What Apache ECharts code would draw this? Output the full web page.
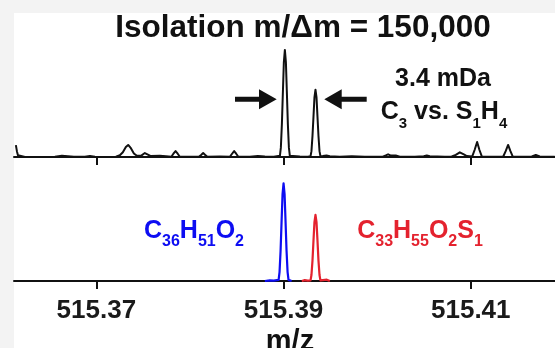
<!DOCTYPE html>
<html><head><meta charset="utf-8">
<script src="https://cdn.jsdelivr.net/npm/echarts@6/dist/echarts.min.js"></script>
<style>html,body{margin:0;padding:0;background:#fff}#c{width:555px;height:348px}</style>
</head><body><div id="c"></div>
<script>
// tick labels (m/z)
const tickValues = [515.37, 515.39, 515.41];
const axisMin = 515.3612, axisMax = 515.4190;

// top panel: isolated window spectrum [m/z, relative intensity]
const isolationTrace = [
[515.36140,10.2],[515.36151,5],[515.36162,1.5],[515.36183,0.5],[515.36237,0.1],[515.36397,0.1],[515.36557,0.3],[515.36632,1],[515.36696,0.6],[515.36760,0.2],[515.36877,0.3],[515.36931,0.9],[515.36984,0.2],[515.37144,0.1],
[515.37209,0.3],[515.37251,1.5],[515.37283,4],[515.37315,8.5],[515.37340,10.3],[515.37369,7.5],[515.37401,3],[515.37433,1],[515.37454,0.8],
[515.37476,1],[515.37497,2.5],[515.37518,3.4],[515.37540,2.5],[515.37561,1],[515.37582,0.8],[515.37678,1],[515.37743,0.6],
[515.37801,0.2],[515.37823,2.8],[515.37846,5.1],[515.37869,2.8],[515.37892,0.2],[515.37999,0.3],
[515.38095,0.2],[515.38119,1.8],[515.38141,3.4],[515.38163,1.8],[515.38186,0.2],[515.38319,0.4],
[515.38426,0.2],[515.38450,2.8],[515.38472,5.1],[515.38494,2.8],[515.38517,0.2],[515.38640,0.3],[515.38725,0.8],[515.38800,0.4],[515.38896,0.2],
[515.38961,1],[515.38971,8],[515.38982,28],[515.38993,56],[515.39003,81],[515.39014,91.5],[515.39025,81],[515.39035,56],[515.39046,28],[515.39057,8],[515.39067,1],
[515.39099,0.8],[515.39174,0.4],[515.39259,0.3],
[515.39288,0.6],[515.39298,5],[515.39309,18],[515.39320,35],[515.39330,51],[515.39341,57.5],[515.39352,51],[515.39362,35],[515.39373,18],[515.39384,5],[515.39394,0.6],
[515.39419,0.8],[515.39459,1.3],[515.39494,0.6],[515.39601,0.3],[515.39729,0.6],[515.39868,0.3],
[515.40060,0.3],[515.40092,1.3],[515.40117,2.3],[515.40146,1.2],[515.40199,1.3],[515.40242,0.3],[515.40402,0.3],[515.40498,0.6],[515.40530,1.3],[515.40562,0.6],[515.40723,0.3],
[515.40797,0.4],[515.40840,1.8],[515.40883,4],[515.40926,2.2],[515.40958,0.8],
[515.41016,0.5],[515.41041,6],[515.41068,12.8],[515.41093,6],[515.41118,0.5],[515.41203,0.3],
[515.41347,0.4],[515.41373,5],[515.41399,10.3],[515.41424,5],[515.41449,0.4],[515.41577,0.3],
[515.41652,0.4],[515.41695,1.7],[515.41737,0.4],[515.41897,0.3]
];

// bottom panel: theoretical profiles
const c36Trace = [
[515.38800,0],[515.38853,0.6],[515.38896,0.3],[515.38917,0.8],[515.38947,1],[515.38957,8],[515.38968,27],[515.38979,54],[515.38989,78],[515.39000,88],[515.39011,78],[515.39021,54],[515.39032,27],[515.39043,8],[515.39053,1],[515.39065,0.6],[515.39086,0]
];
const c33Trace = [
[515.39195,0],[515.39227,0.8],[515.39259,0.4],[515.39288,0.6],[515.39298,5.4],[515.39309,18.4],[515.39320,37],[515.39330,53],[515.39341,59.5],[515.39352,53],[515.39362,37],[515.39373,18.4],[515.39384,5.4],[515.39394,0.6],[515.39419,0.8],[515.39462,1.2],[515.39494,0]
];

// formula labels as [text, isSubscript]
const blueFormula = [['C',0],['36',1],['H',0],['51',1],['O',0],['2',1]];
const redFormula = [['C',0],['33',1],['H',0],['55',1],['O',0],['2',1],['S',0],['1',1]];
const diffFormula = [['C',0],['3',1],[' vs. S',0],['1',1],['H',0],['4',1]];

const FONT = '"Liberation Sans", Arial, Helvetica, sans-serif';
const INK = '#111111';
const BLUE = '#0d0df2';
const RED = '#e4222e';

const measureCtx = document.createElement('canvas').getContext('2d');
function textWidth(t, font) { measureCtx.font = font; return measureCtx.measureText(t).width; }

function formulaTexts(parts, cx, cy, color, mainSize, subSize, drop) {
  const mainFont = 'bold ' + mainSize + 'px ' + FONT;
  const subFont = 'bold ' + subSize + 'px ' + FONT;
  const widths = parts.map(p => textWidth(p[0], p[1] ? subFont : mainFont));
  const total = widths.reduce((a, b) => a + b, 0);
  let x = cx - total / 2;
  return parts.map((p, i) => {
    const el = {type: 'text', silent: true, style: {text: p[0], x: x, y: p[1] ? cy + drop : cy,
      textAlign: 'left', textVerticalAlign: 'middle', font: p[1] ? subFont : mainFont, fill: color}};
    x += widths[i];
    return el;
  });
}

const chart = echarts.init(document.getElementById('c'), null, {renderer: 'canvas'});

const xAxisBase = {
  type: 'value', min: axisMin, max: axisMax,
  axisLine: {show: true, lineStyle: {color: INK, width: 2}},
  axisTick: {show: true, customValues: tickValues, length: 8, lineStyle: {color: INK, width: 2}},
  splitLine: {show: false}
};

chart.setOption({
  animation: false,
  backgroundColor: '#ffffff',
  grid: [
    {left: 14, right: 0, top: 40, height: 117},
    {left: 14, right: 0, top: 170, height: 111}
  ],
  xAxis: [
    Object.assign({}, xAxisBase, {gridIndex: 0, axisLabel: {show: false}}),
    Object.assign({}, xAxisBase, {gridIndex: 1,
      axisLabel: {show: true, customValues: tickValues, margin: 17, color: '#1a1a1a', fontSize: 26, fontWeight: 'bold', fontFamily: FONT,
        formatter: v => v.toFixed(2)}})
  ],
  yAxis: [
    {type: 'value', gridIndex: 0, min: 0, max: 100, show: false},
    {type: 'value', gridIndex: 1, min: 0, max: 100, show: false}
  ],
  series: [
    {type: 'line', xAxisIndex: 0, yAxisIndex: 0, data: isolationTrace, showSymbol: false, silent: true,
      lineStyle: {color: INK, width: 2, join: 'round'}},
    {type: 'line', xAxisIndex: 1, yAxisIndex: 1, data: c36Trace, showSymbol: false, silent: true,
      lineStyle: {color: BLUE, width: 2.2, join: 'round'}},
    {type: 'line', xAxisIndex: 1, yAxisIndex: 1, data: c33Trace, showSymbol: false, silent: true,
      lineStyle: {color: RED, width: 2.2, join: 'round'}}
  ],
  graphic: [
    {type: 'rect', z: -10, silent: true, shape: {x: 0, y: 0, width: 555, height: 13}, style: {fill: '#f3f3f3'}},
    {type: 'rect', z: -10, silent: true, shape: {x: 0, y: 0, width: 14, height: 348}, style: {fill: '#f3f3f3'}},
    {type: 'text', silent: true, style: {text: 'Isolation m/\u0394m = 150,000', x: 303, y: 28.5, textAlign: 'center', textVerticalAlign: 'middle',
      font: 'bold 31.5px ' + FONT, fill: INK}},
    {type: 'text', silent: true, style: {text: '3.4 mDa', x: 443, y: 79.5, textAlign: 'center', textVerticalAlign: 'middle',
      font: 'bold 25px ' + FONT, fill: INK}},
    {type: 'text', silent: true, style: {text: 'm/z', x: 290, y: 341.5, textAlign: 'center', textVerticalAlign: 'middle',
      font: 'bold 29px ' + FONT, fill: INK}},
    // arrows
    {type: 'polygon', silent: true, shape: {points: [[235,96.8],[259,96.8],[259,89.3],[276.7,99.3],[259,109.3],[259,101.8],[235,101.8]]}, style: {fill: INK}},
    {type: 'polygon', silent: true, shape: {points: [[366.7,96.8],[341.7,96.8],[341.7,89.3],[324.3,99.3],[341.7,109.3],[341.7,101.8],[366.7,101.8]]}, style: {fill: INK}}
  ].concat(
    formulaTexts(diffFormula, 444, 112.5, INK, 25, 15, 11),
    formulaTexts(blueFormula, 194, 231.5, BLUE, 25, 16, 10.5),
    formulaTexts(redFormula, 420, 231.5, RED, 25, 16, 10.5)
  )
});
</script>
</body></html>
